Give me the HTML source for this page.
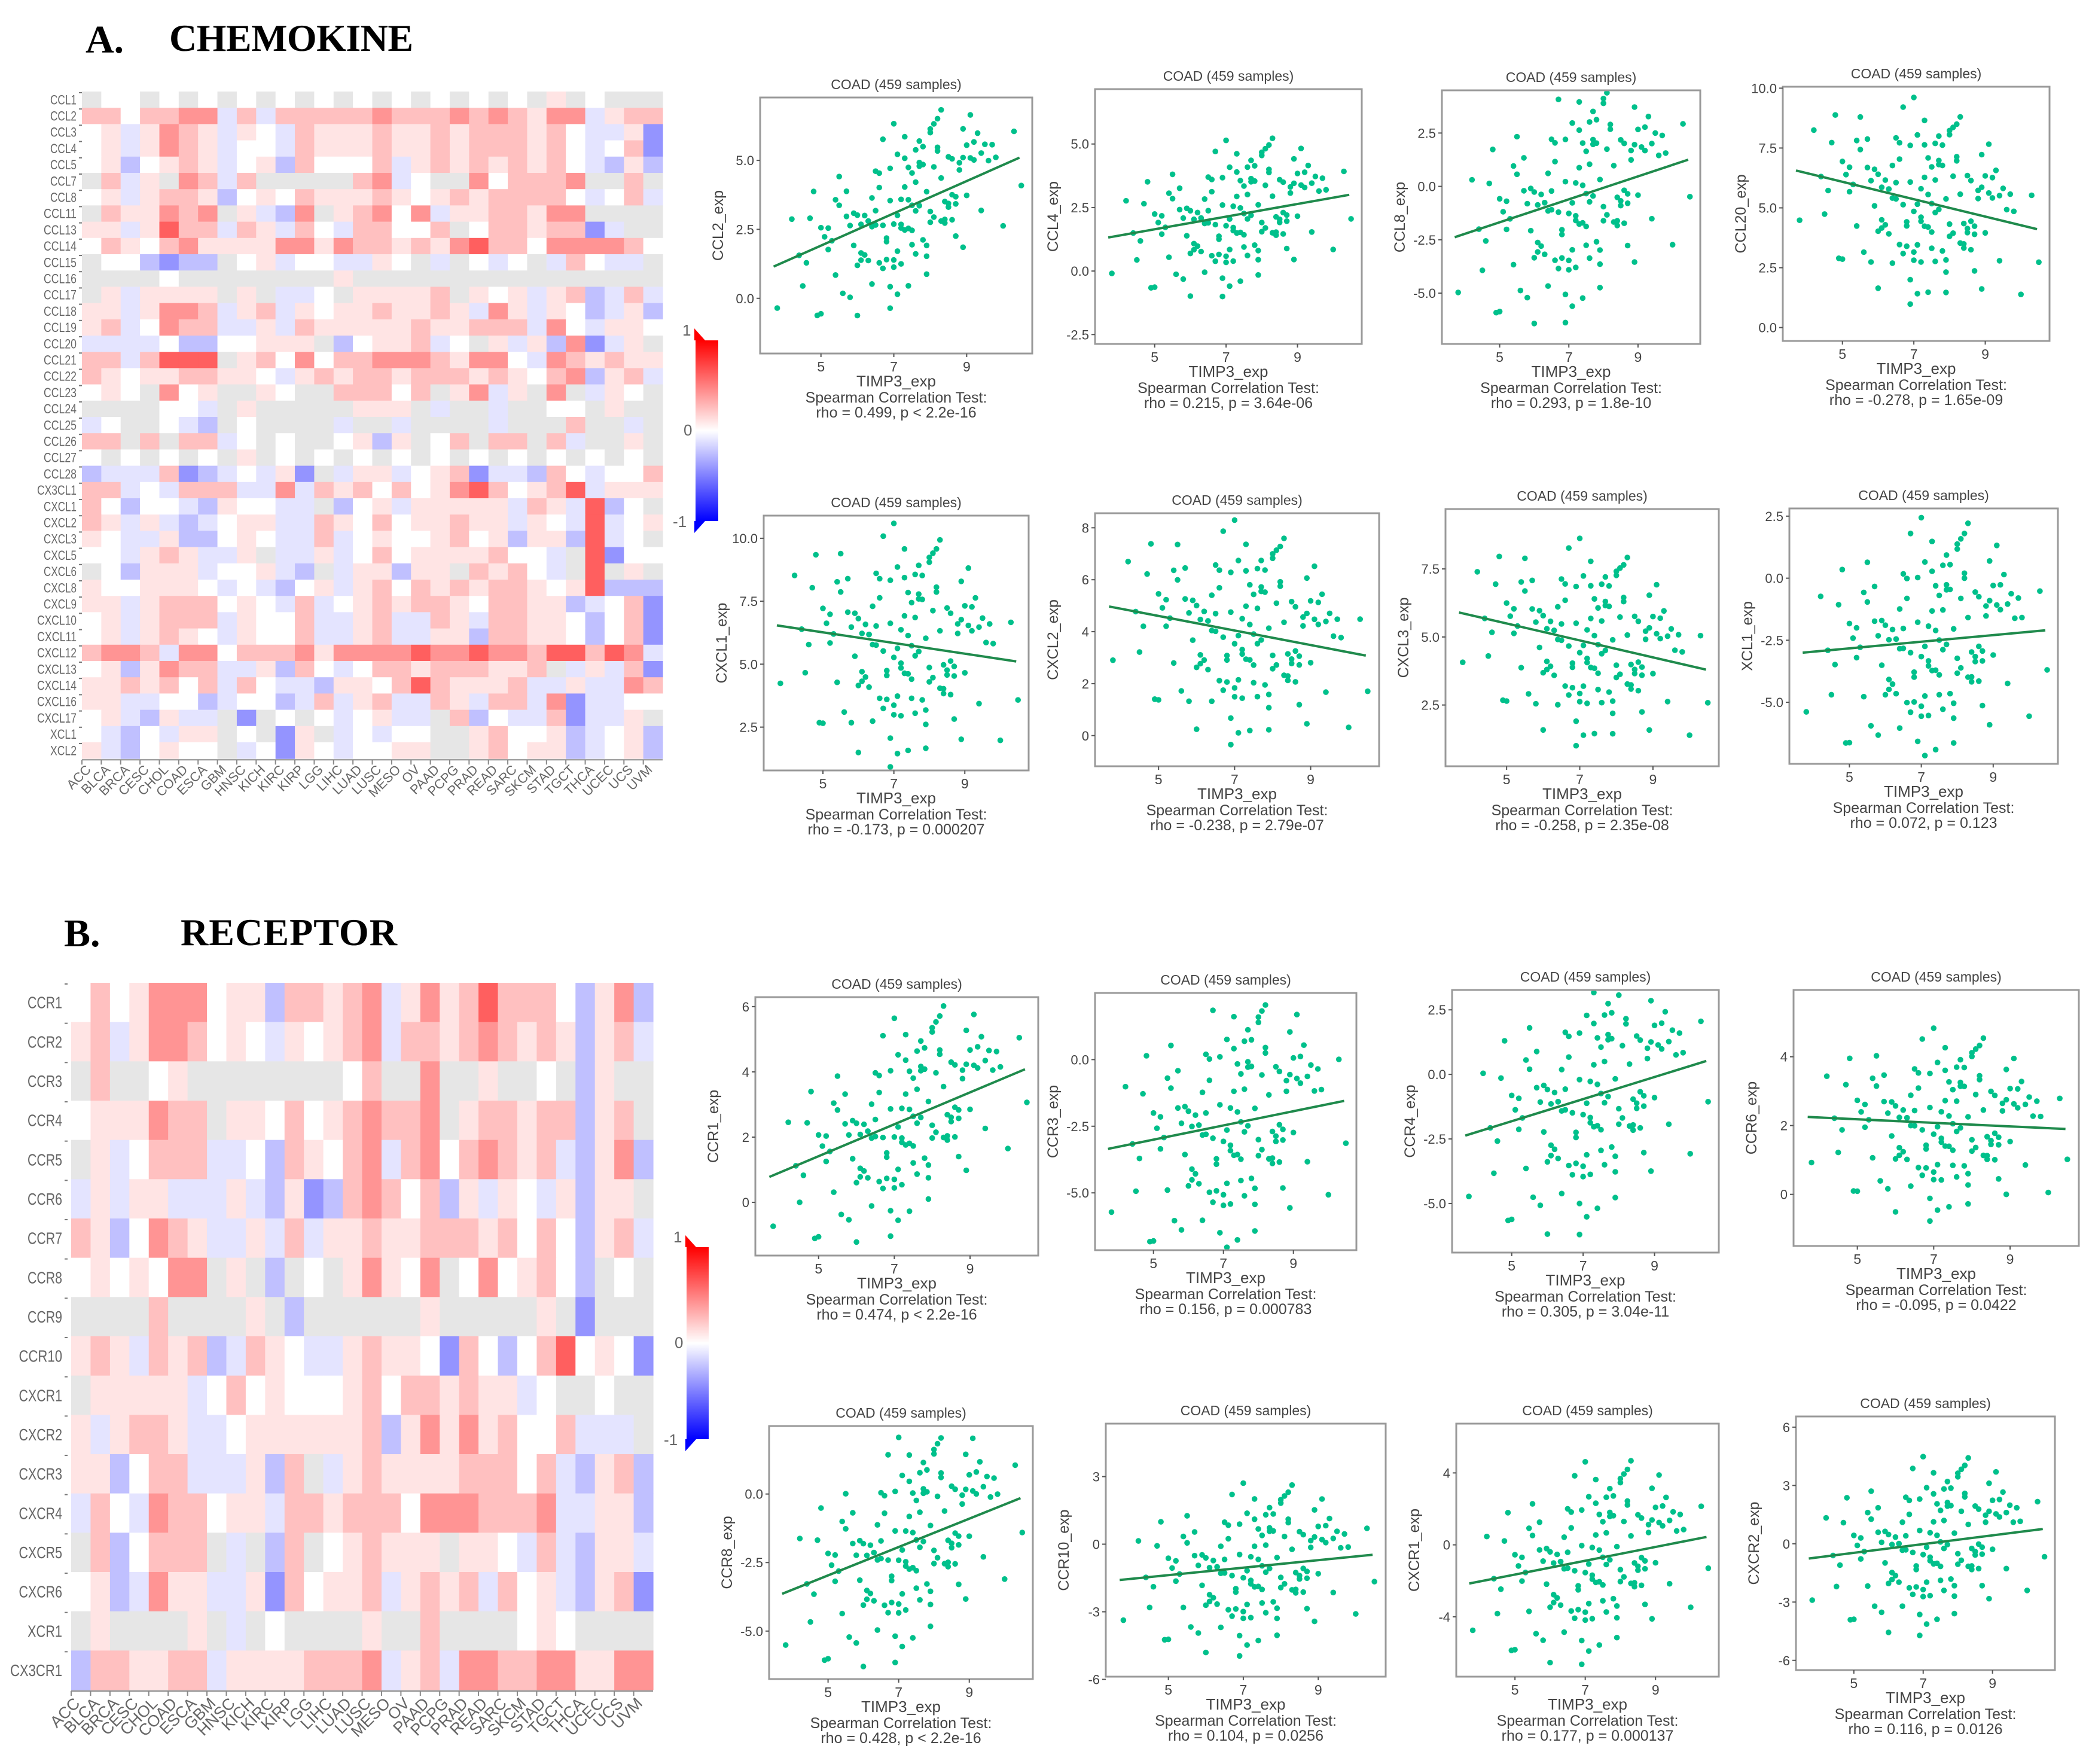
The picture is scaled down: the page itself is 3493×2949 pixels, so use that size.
<!DOCTYPE html>
<html><head><meta charset="utf-8"><style>
html,body{margin:0;padding:0;background:#fff;}
svg{display:block;font-family:"Liberation Sans",sans-serif;}
</style></head><body>
<svg id="fig" xmlns="http://www.w3.org/2000/svg" width="3493" height="2949" viewBox="0 0 3493 2949">
<defs>
<linearGradient id="cbar" x1="0" y1="0" x2="0" y2="1">
<stop offset="0" stop-color="#ff0000"/><stop offset="0.5" stop-color="#ffffff"/><stop offset="1" stop-color="#0000ff"/>
</linearGradient>
</defs>
<text x="143" y="88" font-family="Liberation Serif" font-weight="bold" font-size="66">A.</text>
<text x="283" y="85" font-family="Liberation Serif" font-weight="bold" font-size="64" textLength="408">CHEMOKINE</text>
<text x="107" y="1582" font-family="Liberation Serif" font-weight="bold" font-size="66">B.</text>
<text x="302" y="1580" font-family="Liberation Serif" font-weight="bold" font-size="64" textLength="362">RECEPTOR</text>
</svg>
<script>
const _ = null;
const cancers = ["ACC","BLCA","BRCA","CESC","CHOL","COAD","ESCA","GBM","HNSC","KICH","KIRC","KIRP","LGG","LIHC","LUAD","LUSC","MESO","OV","PAAD","PCPG","PRAD","READ","SARC","SKCM","STAD","TGCT","THCA","UCEC","UCS","UVM"];
const chemokines = ["CCL1","CCL2","CCL3","CCL4","CCL5","CCL7","CCL8","CCL11","CCL13","CCL14","CCL15","CCL16","CCL17","CCL18","CCL19","CCL20","CCL21","CCL22","CCL23","CCL24","CCL25","CCL26","CCL27","CCL28","CX3CL1","CXCL1","CXCL2","CXCL3","CXCL5","CXCL6","CXCL8","CXCL9","CXCL10","CXCL11","CXCL12","CXCL13","CXCL14","CXCL16","CXCL17","XCL1","XCL2"];
// correlation levels (-4..4, null = not significant/grey)
const chemoValues = [
[_,0,0,_,0,_,0,_,0,_,0,_,0,_,0,_,0,_,0,_,0,_,0,_,1,_,0,_,_,_],
[2,2,0,2,2,3,3,-1,2,-1,2,2,2,2,2,3,2,2,2,3,2,3,2,1,3,3,-1,1,2,2],
[0,1,-1,1,3,2,1,-1,1,0,-1,2,1,1,1,2,1,1,2,1,2,2,2,1,2,0,-1,-1,1,-3],
[0,1,-1,1,3,2,1,-1,0,0,-1,2,1,1,1,2,1,1,2,1,2,2,2,1,2,0,-1,0,2,-3],
[0,1,-2,0,1,2,1,-1,0,1,-2,2,0,0,0,2,-1,1,2,1,2,1,2,1,2,0,-1,-2,1,-2],
[_,2,-1,1,_,3,2,-1,2,_,_,_,_,_,2,3,-1,0,_,_,3,0,2,2,2,3,_,_,2,_],
[0,1,-1,1,2,2,1,-2,0,1,0,2,1,1,1,2,1,0,1,2,1,2,2,2,2,0,-1,0,2,-1],
[_,2,1,1,3,2,3,_,1,-1,-2,3,_,1,2,3,0,3,-1,1,1,2,2,1,3,3,_,_,_,_],
[1,1,-1,1,4,2,2,-1,2,1,-1,2,0,-1,2,2,0,0,2,_,0,2,2,1,2,2,-3,-1,_,_],
[0,2,1,0,2,3,1,1,1,1,3,3,1,3,2,2,1,2,1,3,4,2,2,0,3,3,3,3,2,0],
[_,0,0,-2,-3,-2,-2,_,0,1,-1,0,0,-1,-1,1,0,_,-1,_,0,-1,0,_,-1,2,0,-1,-1,_],
[_,_,_,_,0,_,_,_,_,_,_,_,_,1,_,_,_,_,_,_,_,_,_,_,_,_,_,_,_,_],
[_,1,-1,1,1,1,1,_,1,_,-1,-1,0,_,1,1,1,1,2,_,1,0,1,-1,1,2,-2,-1,2,-1],
[1,1,-1,1,3,3,2,-1,1,2,-1,1,0,1,1,2,1,1,2,1,-1,3,1,-1,1,0,-2,-1,1,-2],
[1,2,-1,0,3,2,2,-1,-1,1,-1,2,1,1,1,1,1,2,1,1,2,2,2,-1,3,0,-1,1,1,0],
[-1,-1,-1,-1,0,-2,-2,0,0,1,1,1,_,-2,0,1,1,2,-1,0,_,1,-1,1,-2,3,-3,-1,1,_],
[2,2,-1,2,4,4,4,_,1,2,0,3,0,2,2,3,3,3,2,1,3,3,0,-1,3,2,1,2,1,1],
[2,1,0,1,1,2,2,1,1,0,-1,1,2,1,2,2,1,2,2,2,1,2,1,0,2,3,-2,1,2,-1],
[0,1,0,_,3,0,1,_,_,1,0,_,_,2,2,2,0,2,_,1,3,-1,1,_,3,_,-1,1,0,_],
[_,_,_,_,0,0,-1,_,1,_,_,_,_,_,1,1,1,_,-1,_,_,-1,_,_,0,0,_,1,_,_],
[-1,0,_,_,0,-1,-2,_,0,_,_,_,_,-1,_,_,-1,_,_,_,_,-1,_,_,_,2,_,_,-1,_],
[2,2,_,2,_,2,2,-1,0,_,0,_,_,0,1,-2,1,_,0,2,_,2,2,_,2,-1,_,_,1,_],
[0,_,0,_,0,_,0,_,1,_,0,_,0,_,0,_,0,_,0,_,0,_,0,_,0,_,0,_,0,_],
[-2,-1,-1,-1,2,-3,-2,-1,0,-1,1,-3,_,-1,1,1,-1,0,1,2,-3,-1,-1,-2,2,0,-1,0,0,2],
[2,2,-1,0,-1,2,2,2,-1,-1,3,-1,2,1,2,0,2,0,1,3,4,2,0,1,2,4,-1,1,1,1],
[2,0,-2,0,0,-1,-2,1,0,0,-1,-1,_,-2,0,1,-1,1,1,1,1,1,-1,2,1,-1,4,-2,0,_],
[2,1,-1,1,-1,-2,-1,0,1,1,-1,-1,2,1,0,2,0,1,1,2,1,1,-1,1,0,-1,4,-1,0,1],
[1,0,-1,-1,1,-2,-2,0,1,0,-1,-1,2,-1,0,1,0,0,1,2,0,1,-2,1,1,-2,4,-1,0,_],
[0,0,-1,1,2,1,-1,-1,1,_,-1,-1,1,-1,0,2,0,1,1,1,1,2,0,0,-1,_,4,-3,0,0],
[_,0,-2,1,1,1,-1,0,0,1,-1,-2,_,-1,1,1,-2,1,1,_,2,1,2,0,-1,_,4,_,1,_],
[1,0,0,1,1,1,0,-1,0,-1,-2,0,1,-1,1,2,0,2,1,2,1,2,2,1,0,1,4,-2,-2,-2],
[1,1,-1,1,2,2,2,0,1,0,-1,2,-1,0,1,2,1,2,2,1,0,2,2,1,1,-2,-1,0,2,-3],
[0,1,-1,1,2,2,2,-1,1,0,0,2,-1,-1,1,2,-1,-1,2,1,-1,2,2,1,1,0,-2,0,2,-3],
[0,1,-1,1,2,1,0,-1,1,0,0,2,-1,-1,1,2,-1,-1,1,1,-2,2,2,1,1,0,-2,0,2,-3],
[2,3,3,2,-1,3,3,0,2,2,2,3,1,3,3,3,3,4,3,3,4,3,3,2,4,4,2,4,3,-1],
[0,1,-2,1,3,2,2,-1,-1,1,-2,2,0,-1,0,2,2,1,2,2,2,1,1,2,_,-1,1,-1,2,-3],
[1,1,2,1,2,0,2,-1,2,0,-1,-1,-2,1,1,0,2,4,2,1,1,1,2,-1,-1,1,-1,-1,3,2],
[1,1,-1,-1,0,0,-2,-1,0,0,-2,-1,2,-1,1,2,-1,-1,2,1,-1,2,2,-1,3,-3,-1,-1,0,0],
[0,1,-1,-2,1,-1,-1,_,-3,_,0,_,0,-1,0,1,-1,-1,_,2,-2,0,-1,-1,2,-3,-1,-1,1,_],
[0,-1,-2,0,-1,1,1,_,0,_,-3,1,_,-1,0,-1,0,0,_,_,1,2,0,0,1,-2,-1,0,1,-2],
[1,-1,-2,0,1,0,0,_,-1,0,-3,1,0,-1,0,0,1,1,_,_,1,2,0,1,1,-2,-1,0,1,-2]
];
const receptors = ["CCR1","CCR2","CCR3","CCR4","CCR5","CCR6","CCR7","CCR8","CCR9","CCR10","CXCR1","CXCR2","CXCR3","CXCR4","CXCR5","CXCR6","XCR1","CX3CR1"];
const receptorValues = [
[0,2,0,1,3,3,3,0,1,1,-2,2,2,1,2,3,-1,1,3,1,2,4,2,2,2,0,-2,1,3,-2],
[1,2,-1,1,3,3,2,0,1,0,-1,1,0,1,2,3,-1,2,2,1,2,3,2,1,2,1,-2,1,2,-1],
[_,2,_,_,0,1,_,_,_,_,_,_,_,_,0,2,_,_,3,_,_,1,_,_,0,_,-2,1,_,_],
[0,1,1,1,3,2,2,_,1,1,0,2,0,1,2,3,2,2,3,_,1,2,2,1,2,2,-2,1,2,_],
[_,1,-1,0,2,2,2,-1,-1,0,-2,2,1,0,2,3,-1,2,3,0,2,3,2,1,2,-1,-2,1,3,-2],
[-1,1,-1,1,1,-1,-1,-1,1,-1,-2,1,-3,-2,2,3,2,0,2,-2,1,-1,1,0,-1,1,-2,1,1,_],
[2,1,-2,0,3,2,1,-1,-1,1,-1,2,-1,1,1,2,1,1,2,2,2,1,2,0,2,0,-2,1,2,-1],
[0,1,0,1,0,3,3,_,1,_,-2,_,0,_,1,3,1,0,3,_,0,3,0,1,2,0,-2,_,0,_],
[_,_,_,_,2,_,_,_,_,1,_,-2,_,_,_,_,_,_,1,_,_,_,_,_,1,_,-3,_,_,_],
[1,2,1,-1,2,1,2,-2,-1,2,1,0,-1,-1,1,2,1,1,0,-3,2,0,-2,0,2,4,0,1,0,-3],
[_,1,1,1,1,1,-1,0,2,0,1,0,0,0,1,2,0,2,2,1,2,1,1,-1,0,_,_,0,_,_],
[1,-1,1,2,2,1,-1,-1,0,1,1,1,1,1,1,2,-2,1,3,1,3,1,2,0,0,2,-1,-1,-1,_],
[1,1,-2,0,2,2,-1,-1,-1,1,-2,2,_,-1,1,2,1,1,1,1,2,2,2,0,2,-1,-2,1,2,-2],
[-1,2,0,-1,3,2,2,0,1,1,-1,2,2,1,2,2,2,0,3,3,3,2,2,2,3,-1,-1,1,1,-2],
[_,2,-2,0,2,2,2,_,-1,_,-2,2,_,0,1,2,1,1,1,_,1,1,0,-1,2,-1,-2,1,1,-1],
[0,1,-2,-1,3,1,1,-1,-1,1,-3,2,0,1,1,2,-1,1,2,1,2,-1,2,0,1,-1,-2,1,2,-3],
[_,1,_,_,_,_,1,_,-1,_,0,_,_,_,_,1,_,_,2,_,_,_,_,0,1,0,_,_,_,_],
[-2,2,2,1,1,2,2,-1,1,1,1,1,2,2,2,3,-1,1,2,-1,3,3,2,2,3,3,1,1,3,3]
];
// scatter data: shared TIMP3 expression values and residuals
const timp3 = [7.2,6.8,8.1,5.9,7.6,8.4,6.3,7.9,9.1,5.4,7.0,6.6,8.7,7.4,6.1,8.0,7.7,5.7,9.4,6.9,
7.3,8.3,6.4,7.8,5.2,8.9,7.1,6.7,8.5,7.5,4.8,6.2,9.6,7.0,8.2,6.0,7.6,8.6,5.5,7.2,
6.5,9.0,7.9,4.5,8.1,6.8,7.4,5.8,8.8,7.1,10.3,6.3,7.7,8.4,5.0,6.9,9.2,7.5,6.1,8.0,
3.8,7.3,8.7,6.6,5.6,9.8,7.0,8.3,6.4,7.8,5.3,8.9,7.2,4.9,8.5,6.7,9.3,7.6,6.0,8.1,
4.2,7.4,5.9,8.6,7.1,6.5,9.5,7.9,5.1,8.2,6.8,7.5,10.0,6.2,8.0,7.3,5.4,8.8,6.9,7.7,
4.6,9.1,7.0,6.3,8.4,5.7,7.6,9.7,6.6,8.3,7.2,5.2,8.9,7.8,6.1,4.4,9.0,7.4,6.7,8.6,
5.8,7.1,8.2,6.4,9.4,7.5,5.5,8.0,6.9,7.9,4.7,8.7,7.3,6.0,9.2,5.0,7.7,8.5,6.5,10.5];
const residuals = [0.3,-1.2,0.8,-0.4,1.5,-0.9,0.1,-2.1,0.6,1.1,-0.3,0.9,-1.4,0.2,-0.7,1.8,-0.1,0.5,-1.0,1.3,
-0.6,0.4,-1.7,1.0,-0.2,0.7,-1.1,2.2,-0.5,0.0,1.6,-0.8,0.3,-1.3,1.2,-2.4,0.6,-0.2,0.9,-1.5,
1.4,-0.4,0.2,-0.9,2.0,-0.6,1.1,-1.8,0.4,-0.1,0.8,-1.0,1.7,-0.3,0.5,-2.0,1.0,-0.7,0.1,1.9,
-1.2,0.6,-0.5,1.3,-1.6,0.3,2.5,-0.8,0.7,-1.1,0.0,1.5,-0.4,-1.9,0.9,-0.2,1.2,-1.4,0.4,-0.6,
1.1,-2.2,0.5,-0.9,1.6,-0.1,0.8,-1.3,0.2,2.1,-0.7,0.9,-1.7,0.3,-0.4,1.4,-1.0,0.6,-2.6,1.0,
-0.3,1.8,-1.5,0.1,-0.8,1.2,-0.2,0.7,-1.2,2.3,-0.5,0.4,-1.8,1.5,-0.9,0.0,1.0,-0.6,-1.4,0.8,
0.2,-2.3,1.3,-0.1,0.6,-1.1,1.7,-0.7,0.4,-1.6,0.9,-0.3,2.0,-1.0,0.5,-1.9,1.1,-0.4,0.3,-0.8];
const geneNames = ["CCL2","CCL4","CCL8","CCL20","CXCL1","CXCL2","CXCL3","XCL1","CCR1","CCR3","CCR4","CCR6","CCR8","CCR10","CXCR1","CXCR2"];
const rhoTexts = ["rho = 0.499, p < 2.2e-16","rho = 0.215, p = 3.64e-06","rho = 0.293, p = 1.8e-10","rho = -0.278, p = 1.65e-09","rho = -0.173, p = 0.000207","rho = -0.238, p = 2.79e-07","rho = -0.258, p = 2.35e-08","rho = 0.072, p = 0.123","rho = 0.474, p < 2.2e-16","rho = 0.156, p = 0.000783","rho = 0.305, p = 3.04e-11","rho = -0.095, p = 0.0422","rho = 0.428, p < 2.2e-16","rho = 0.104, p = 0.0256","rho = 0.177, p = 0.000137","rho = 0.116, p = 0.0126"];
const fitStart = [1.15,1.32,-2.38,6.56,6.54,4.97,5.9,-3.0,0.78,-3.35,-2.37,2.25,-3.64,-1.59,-2.15,-0.76];
const fitEnd = [5.1,3.0,1.25,4.11,5.11,3.08,3.8,-2.1,4.08,-1.55,0.52,1.9,-0.15,-0.47,0.44,0.76];
const spreads = [1.3,1.2,2.2,1.7,1.9,1.7,1.5,2.0,1.3,2.0,2.0,1.1,1.6,1.5,2.2,1.8];
const yMins = [-2.0,-2.87,-7.38,-0.56,0.78,-1.18,0.25,-7.48,-1.63,-7.15,-6.9,-1.5,-6.75,-5.88,-7.33,-6.5];
const yMaxs = [7.28,7.16,4.5,10.06,10.9,8.56,9.7,2.81,6.29,2.5,3.27,5.94,2.48,5.35,6.74,6.55];
const yTicks = [[0,2.5,5],[-2.5,0,2.5,5],[-5,-2.5,0,2.5],[0,2.5,5,7.5,10],[2.5,5,7.5,10],[0,2,4,6,8],[2.5,5,7.5],[-5,-2.5,0,2.5],
[0,2,4,6],[-5,-2.5,0],[-5,-2.5,0,2.5],[0,2,4],[-5,-2.5,0],[-6,-3,0,3],[-4,0,4],[-6,-3,0,3,6]];
const xTicks = [5,7,9];
const xDomain = [3.33,10.8];
const fitX = [3.7,10.45];
// panel boxes [left, top, right, bottom]
const boxes = [[1271,163,1726,591],[1831,149,2277,575],[2411,151,2843,575],[2981,145,3427,570],
[1277,862,1720,1288],[1831,858,2306,1281],[2417,851,2874,1281],[2992,850,3441,1277],
[1263,1667,1736,2099],[1831,1660,2268,2090],[2428,1655,2874,2094],[2999,1655,3476,2083],
[1286,2384,1727,2807],[1849,2380,2317,2803],[2435,2380,2874,2803],[3003,2368,3436,2792]];

const svg = document.getElementById('fig');
const NS = 'http://www.w3.org/2000/svg';
function mk(tag, attrs, parent){const e=document.createElementNS(NS,tag);for(const k in attrs)e.setAttribute(k,attrs[k]);(parent||svg).appendChild(e);return e;}
function txt(s, attrs, parent){const e=mk('text',attrs,parent);e.textContent=s;return e;}

const posLv=[255,228,192,148,95];
function cellColor(v){
  if(v===null) return '#e6e6e6';
  const a=Math.min(4,Math.round(Math.abs(v)));
  const lo=posLv[a];
  return v>=0?`rgb(255,${lo},${lo})`:`rgb(${lo},${lo},255)`;
}

function heatmap(rows, vals, x0, x1, y0, rh, labelFont, labelX, charW, colFont, name){
  const g=mk('g',{});
  
  
  const cw=(x1-x0)/cancers.length;
  vals.forEach((row,i)=>{
    row.forEach((v,j)=>{
      const r=mk('rect',{x:(x0+j*cw).toFixed(2),y:(y0+i*rh).toFixed(2),width:(cw+0.6).toFixed(2),height:(rh+0.6).toFixed(2),fill:cellColor(v)},g);
      
      
    });
    const t=txt(rows[i],{x:labelX,y:(y0+i*rh+rh/2+labelFont*0.35).toFixed(1),'text-anchor':'end','font-size':labelFont,fill:'#666',textLength:rows[i].length*charW,lengthAdjust:'spacingAndGlyphs'},g);
    
    
    mk('line',{x1:labelX+4,x2:labelX+9,y1:y0+i*rh+2,y2:y0+i*rh+2,stroke:'#777','stroke-width':2},g);
  });
  const yb=y0+vals.length*rh;
  mk('line',{x1:x0,x2:x1,y1:yb+2,y2:yb+2,stroke:'#888','stroke-width':2},g);
  cancers.forEach((c,j)=>{
    const cx=x0+(j+0.5)*cw;
    mk('line',{x1:cx-cw/2,x2:cx-cw/2,y1:yb+2,y2:yb+10,stroke:'#888','stroke-width':2},g);
    const t=txt(c,{x:cx,y:yb+colFont*0.9,'text-anchor':'end','font-size':colFont,fill:'#666',transform:`rotate(-45 ${cx} ${yb+colFont*0.9})`},g);
    
    
  });
}
heatmap(chemokines, chemoValues, 137, 1108, 153, 27.2, 22, 128, 11, 22, 'chemokine-heatmap');
heatmap(receptors, receptorValues, 119, 1092, 1643, 1182/18, 28, 104, 14.5, 27, 'receptor-heatmap');

function colorbar(x,y,w,h,name){
  const g=mk('g',{});
  
  
  mk('rect',{x:x,y:y,width:w,height:h,fill:'url(#cbar)'},g);
  mk('polygon',{points:`${x-2},${y-20} ${x+16},${y} ${x-2},${y}`,fill:'#ff0000'},g);
  mk('polygon',{points:`${x-2},${y+h+20} ${x+16},${y+h} ${x-2},${y+h}`,fill:'#0000ff'},g);
  txt('1',{x:x-22,y:y-8,'font-size':26,fill:'#666'},g);
  txt('0',{x:x-20,y:y+h/2+8,'font-size':26,fill:'#666'},g);
  txt('-1',{x:x-38,y:y+h+10,'font-size':26,fill:'#666'},g);
}
colorbar(1163,569,38,302,'chemokine-colorbar');
colorbar(1148,2085,37,321,'receptor-colorbar');

function fmt(v,ticks){const dec=ticks.some(t=>t%1!==0);return dec?v.toFixed(1):String(v);}

boxes.forEach((b,p)=>{
  const [L,T,R,B]=b;
  const g=mk('g',{});
  
  
  const sx=v=>L+(v-xDomain[0])/(xDomain[1]-xDomain[0])*(R-L);
  const sy=v=>B-(v-yMins[p])/(yMaxs[p]-yMins[p])*(B-T);
  const slope=(fitEnd[p]-fitStart[p])/(fitX[1]-fitX[0]);
  const n=Math.min(timp3.length,residuals.length);
  for(let i=0;i<n;i++){
    const xv=timp3[i];
    const yv=fitStart[p]+(xv-fitX[0])*slope+residuals[i]*spreads[p];
    const cy=sy(yv);
    if(cy<T+4||cy>B-4) continue;
    const c=mk('circle',{cx:sx(xv).toFixed(1),cy:cy.toFixed(1),r:4.8,fill:'#00c08b'},g);
    
    
  }
  const ln=mk('line',{x1:sx(fitX[0]),y1:sy(fitStart[p]),x2:sx(fitX[1]),y2:sy(fitEnd[p]),stroke:'#1f8a4c','stroke-width':4},g);
  
  
  const frame=mk('rect',{x:L,y:T,width:R-L,height:B-T,fill:'none',stroke:'#999','stroke-width':3},g);
  
  
  yTicks[p].forEach(tv=>{
    const y=sy(tv);
    mk('line',{x1:L-6,x2:L,y1:y,y2:y,stroke:'#555','stroke-width':2},g);
    const t=txt(fmt(tv,yTicks[p]),{x:L-10,y:y+8,'text-anchor':'end','font-size':22,fill:'#444'},g);
    
    
  });
  xTicks.forEach(tv=>{
    const x=sx(tv);
    mk('line',{x1:x,x2:x,y1:B,y2:B+6,stroke:'#555','stroke-width':2},g);
    const t=txt(String(tv),{x:x,y:B+30,'text-anchor':'middle','font-size':23,fill:'#444'},g);
    
    
  });
  const cx=(L+R)/2, my=(T+B)/2;
  const tt=txt('COAD (459 samples)',{x:cx,y:T-14,'text-anchor':'middle','font-size':23,fill:'#444'},g);
  
  
  const yl=txt(geneNames[p]+'_exp',{x:L-62,y:my,'text-anchor':'middle','font-size':25,fill:'#444',transform:`rotate(-90 ${L-62} ${my})`},g);
  
  
  const xl=txt('TIMP3_exp',{x:cx,y:B+55,'text-anchor':'middle','font-size':26,fill:'#444'},g);
  
  
  const s1=txt('Spearman Correlation Test:',{x:cx,y:B+82,'text-anchor':'middle','font-size':25,fill:'#444'},g);
  
  
  const s2=txt(rhoTexts[p],{x:cx,y:B+107,'text-anchor':'middle','font-size':25,fill:'#444'},g);
  
  
});
</script>
</body></html>
